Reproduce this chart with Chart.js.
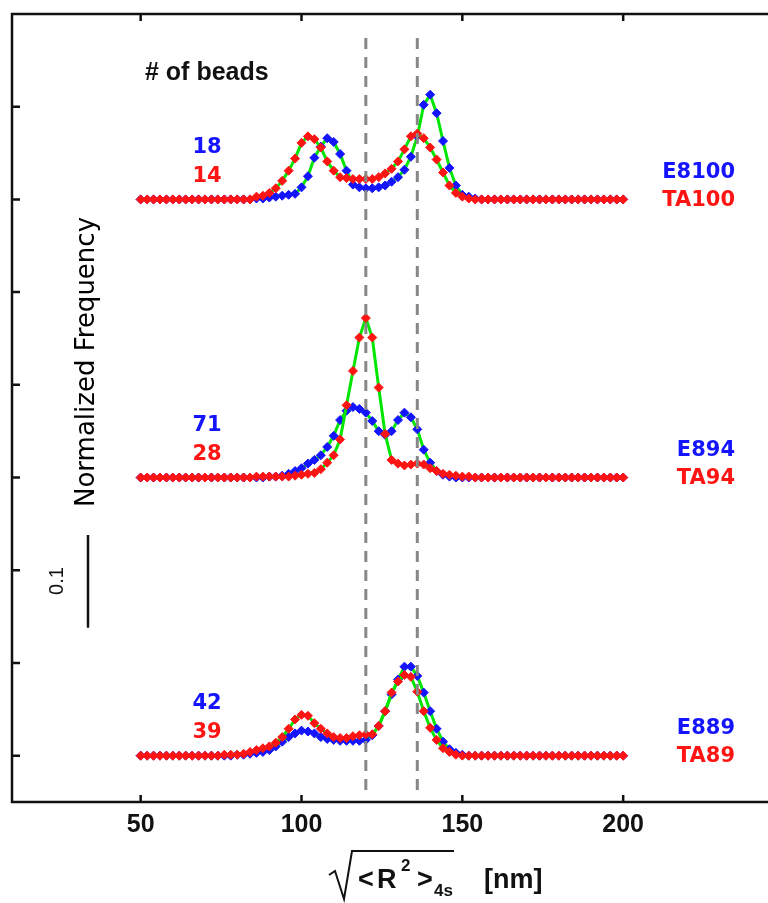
<!DOCTYPE html>
<html>
<head>
<meta charset="utf-8">
<script src="https://cdn.jsdelivr.net/npm/chart.js@4"></script>
<style>
  html, body { margin: 0; padding: 0; background: #fff; overflow: hidden; }
  #wrap { width: 800px; height: 903px; }
</style>
</head>
<body>
<div id="wrap"><canvas id="chart" width="800" height="903"></canvas></div>
<script>
// ============================================================
// Bead size distributions — three stacked pairs of histograms
// ============================================================

const X_VALUES = [
    50, 52, 54, 56, 58, 60, 62, 64, 66, 68, 70, 72, 74, 76, 78, 80, 82, 84,
    86, 88, 90, 92, 94, 96, 98, 100, 102, 104, 106, 108, 110, 112, 114, 116,
    118, 120, 122, 124, 126, 128, 130, 132, 134, 136, 138, 140, 142, 144, 146,
    148, 150, 152, 154, 156, 158, 160, 162, 164, 166, 168, 170, 172, 174, 176,
    178, 180, 182, 184, 186, 188, 190, 192, 194, 196, 198, 200
];

const X_TICKS = [50, 100, 150, 200];
const Y_TICKS = [0, 0.1, 0.2, 0.3, 0.4, 0.5, 0.6, 0.7];
const GUIDE_LINES = [120, 136];

// vertical offsets of the three panels (bottom, middle, top)
const OFFSETS = [0, 0.3, 0.6];
const BLUE_LABELS = ["E889", "E894", "E8100"];
const RED_LABELS = ["TA89", "TA94", "TA100"];
const BLUE_BEADS = ["42", "71", "18"];
const RED_BEADS = ["39", "28", "14"];

// top panel (x = 50..200, step 2)
const E8100 = [
    0, 0, 0, 0, 0, 0, 0, 0, 0, 0, 0, 0, 0, 0, 0, 0, 0, 0,
    0.001, 0.001, 0.002, 0.003, 0.004, 0.005, 0.006, 0.013, 0.025, 0.045, 0.057, 0.066, 0.062, 0.049, 0.031, 0.016,
    0.013, 0.012, 0.012, 0.013, 0.015, 0.019, 0.024, 0.032, 0.046, 0.068, 0.102, 0.113, 0.093, 0.063, 0.034,
    0.015, 0.005, 0.003, 0.001, 0, 0, 0, 0, 0, 0, 0, 0, 0, 0, 0,
    0, 0, 0, 0, 0, 0, 0, 0, 0, 0, 0, 0
];
const TA100 = [
    0, 0, 0, 0, 0, 0, 0, 0, 0, 0, 0, 0, 0, 0, 0, 0, 0, 0,
    0.003, 0.004, 0.007, 0.012, 0.020, 0.031, 0.044, 0.061, 0.068, 0.065, 0.056, 0.041, 0.031, 0.024, 0.023, 0.022,
    0.022, 0.022, 0.022, 0.024, 0.028, 0.033, 0.041, 0.054, 0.068, 0.071, 0.066, 0.056, 0.043, 0.029, 0.015,
    0.007, 0.003, 0.001, 0, 0, 0, 0, 0, 0, 0, 0, 0, 0, 0, 0,
    0, 0, 0, 0, 0, 0, 0, 0, 0, 0, 0, 0
];

// middle panel
const E894 = [
    0, 0, 0, 0, 0, 0, 0, 0, 0, 0, 0, 0, 0, 0, 0, 0, 0, 0,
    0, 0, 0.001, 0.001, 0.002, 0.004, 0.007, 0.010, 0.015, 0.019, 0.024, 0.033, 0.045, 0.062, 0.072, 0.076,
    0.074, 0.070, 0.061, 0.050, 0.046, 0.050, 0.062, 0.070, 0.065, 0.052, 0.030, 0.016, 0.007, 0.003, 0.001,
    0, 0, 0, 0, 0, 0, 0, 0, 0, 0, 0, 0, 0, 0, 0,
    0, 0, 0, 0, 0, 0, 0, 0, 0, 0, 0, 0
];
const TA94 = [
    0, 0, 0, 0, 0, 0, 0, 0, 0, 0, 0, 0, 0, 0, 0, 0, 0, 0,
    0.001, 0.001, 0.001, 0.001, 0.001, 0.001, 0.002, 0.003, 0.004, 0.005, 0.009, 0.016, 0.024, 0.041, 0.078, 0.115,
    0.151, 0.172, 0.151, 0.097, 0.047, 0.019, 0.015, 0.013, 0.014, 0.015, 0.014, 0.010, 0.007, 0.004, 0.003,
    0.002, 0.001, 0.001, 0, 0, 0, 0, 0, 0, 0, 0, 0, 0, 0, 0,
    0, 0, 0, 0, 0, 0, 0, 0, 0, 0, 0, 0
];

// bottom panel
const E889 = [
    0, 0, 0, 0, 0, 0, 0, 0, 0, 0, 0, 0, 0, 0, 0, 0.001, 0.001, 0.002,
    0.003, 0.004, 0.006, 0.010, 0.015, 0.020, 0.024, 0.027, 0.026, 0.024, 0.020, 0.018, 0.017, 0.016, 0.016, 0.016,
    0.016, 0.017, 0.022, 0.032, 0.048, 0.066, 0.082, 0.096, 0.096, 0.086, 0.068, 0.048, 0.029, 0.015, 0.007,
    0.003, 0.001, 0, 0, 0, 0, 0, 0, 0, 0, 0, 0, 0, 0, 0,
    0, 0, 0, 0, 0, 0, 0, 0, 0, 0, 0, 0
];
const TA89 = [
    0, 0, 0, 0, 0, 0, 0, 0, 0, 0, 0, 0, 0, 0.001, 0.001, 0.001, 0.002, 0.004,
    0.006, 0.008, 0.010, 0.014, 0.020, 0.029, 0.039, 0.044, 0.043, 0.035, 0.029, 0.024, 0.020, 0.019, 0.019, 0.021,
    0.022, 0.023, 0.023, 0.032, 0.048, 0.068, 0.080, 0.087, 0.085, 0.069, 0.048, 0.030, 0.017, 0.008, 0.004,
    0.001, 0, 0, 0, 0, 0, 0, 0, 0, 0, 0, 0, 0, 0, 0,
    0, 0, 0, 0, 0, 0, 0, 0, 0, 0, 0, 0
];

const BLUE_SERIES = [E889, E894, E8100];
const RED_SERIES = [TA89, TA94, TA100];

const BLUE = "#1414ff";
const RED = "#ff1414";
const GREEN = "#00e600";

function shifted(values, offset) {
    return values.map((v, i) => ({ x: X_VALUES[i], y: offset + v }));
}

function makeDataset(values, offset, color, order) {
    return {
        data: shifted(values, offset),
        borderColor: GREEN,
        borderWidth: 3,
        pointStyle: "rectRot",
        pointRadius: 4.5,
        pointBackgroundColor: color,
        pointBorderColor: color,
        pointBorderWidth: 1,
        tension: 0,
        order: order
    };
}

const datasets = [];
OFFSETS.forEach((off, i) => {
    datasets.push(makeDataset(BLUE_SERIES[i], off, BLUE, 1));
    datasets.push(makeDataset(RED_SERIES[i], off, RED, 0));
});

function text(ctx, str, x, y, font, color, align) {
    ctx.font = font;
    ctx.fillStyle = color;
    ctx.textAlign = align || "center";
    ctx.textBaseline = "middle";
    ctx.fillText(str, x, y);
}

const decorations = {
    id: "decorations",
    afterDatasetsDraw(chart) {
        const { ctx, scales: { x, y } } = chart;
        ctx.save();
        ctx.strokeStyle = "#878787";
        ctx.lineWidth = 3;
        ctx.setLineDash([11, 8]);
        GUIDE_LINES.forEach(v => {
            const px = x.getPixelForValue(v);
            ctx.beginPath();
            ctx.moveTo(px, y.getPixelForValue(0.774));
            ctx.lineTo(px, y.getPixelForValue(-0.043));
            ctx.stroke();
        });
        ctx.restore();
    },
    afterDraw(chart) {
        const { ctx, chartArea: a, scales: { x, y } } = chart;
        ctx.save();

        // frame + inward ticks
        ctx.strokeStyle = "#111";
        ctx.lineWidth = 2.5;
        ctx.strokeRect(a.left, a.top, a.right - a.left, a.bottom - a.top);
        ctx.beginPath();
        Y_TICKS.forEach(v => {
            const py = y.getPixelForValue(v);
            ctx.moveTo(a.left, py); ctx.lineTo(a.left + 8, py);
            ctx.moveTo(a.right, py); ctx.lineTo(a.right - 8, py);
        });
        X_TICKS.forEach(v => {
            const px = x.getPixelForValue(v);
            ctx.moveTo(px, a.top); ctx.lineTo(px, a.top + 7);
            ctx.moveTo(px, a.bottom); ctx.lineTo(px, a.bottom - 7);
        });
        ctx.stroke();

        // labels per panel
        const sans = "'DejaVu Sans', sans-serif";
        const lblFont = "bold 21px " + sans;
        OFFSETS.forEach((off, i) => {
            const base = y.getPixelForValue(off);
            text(ctx, BLUE_BEADS[i], 207, base - 52, lblFont, BLUE);
            text(ctx, RED_BEADS[i], 207, base - 23, lblFont, RED);
            text(ctx, BLUE_LABELS[i], 735, base - 27, lblFont, BLUE, "right");
            text(ctx, RED_LABELS[i], 735, base + 1, lblFont, RED, "right");
        });

        text(ctx, "# of beads", 145, 73, "bold 25px 'Liberation Sans Narrow', 'Liberation Sans', sans-serif", "#111", "left");

        // y title and 0.1 scale bar
        ctx.save();
        ctx.translate(87, 362);
        ctx.rotate(-Math.PI / 2);
        text(ctx, "Normalized Frequency", 0, 0, "26px " + sans, "#000");
        ctx.restore();

        ctx.save();
        ctx.translate(57, 581);
        ctx.rotate(-Math.PI / 2);
        text(ctx, "0.1", 0, 0, "20px 'Liberation Sans', sans-serif", "#111");
        ctx.restore();

        ctx.strokeStyle = "#111";
        ctx.lineWidth = 2.5;
        ctx.beginPath();
        ctx.moveTo(88, y.getPixelForValue(0.238));
        ctx.lineTo(88, y.getPixelForValue(0.138));
        ctx.stroke();

        // x title: sqrt(<R^2>_4s) [nm]
        ctx.lineWidth = 2;
        ctx.beginPath();
        ctx.moveTo(329, 875);
        ctx.lineTo(335, 871);
        ctx.lineTo(344, 899);
        ctx.lineTo(352, 851);
        ctx.lineTo(454, 851);
        ctx.stroke();
        const lib = "'Liberation Sans Narrow', 'Liberation Sans', sans-serif";
        ctx.textBaseline = "alphabetic";
        ctx.textAlign = "left";
        ctx.fillStyle = "#111";
        ctx.font = "bold 27px " + lib;
        ctx.fillText("<", 358, 888);
        ctx.fillText("R", 377, 888);
        ctx.fillText(">", 417, 888);
        ctx.fillText("[nm]", 484, 888);
        ctx.font = "bold 17px " + lib;
        ctx.fillText("2", 401, 871);
        ctx.fillText("4s", 434, 896);

        ctx.restore();
    }
};

new Chart(document.getElementById("chart"), {
    type: "line",
    data: { datasets },
    options: {
        responsive: false,
        animation: false,
        devicePixelRatio: 1,
        layout: { padding: { left: 12, top: 14, right: 16, bottom: 55 } },
        plugins: { legend: { display: false }, tooltip: { enabled: false } },
        scales: {
            x: {
                type: "linear",
                min: 10,
                max: 250,
                afterBuildTicks: axis => { axis.ticks = X_TICKS.map(v => ({ value: v })); },
                grid: { display: false, drawTicks: false },
                border: { display: false },
                ticks: {
                    padding: 8,
                    color: "#111",
                    font: { family: "'Liberation Sans Narrow', 'Liberation Sans', sans-serif", size: 25, weight: "bold" }
                }
            },
            y: {
                type: "linear",
                min: -0.05,
                max: 0.8,
                display: false
            }
        }
    },
    plugins: [decorations]
});
</script>
</body>
</html>
